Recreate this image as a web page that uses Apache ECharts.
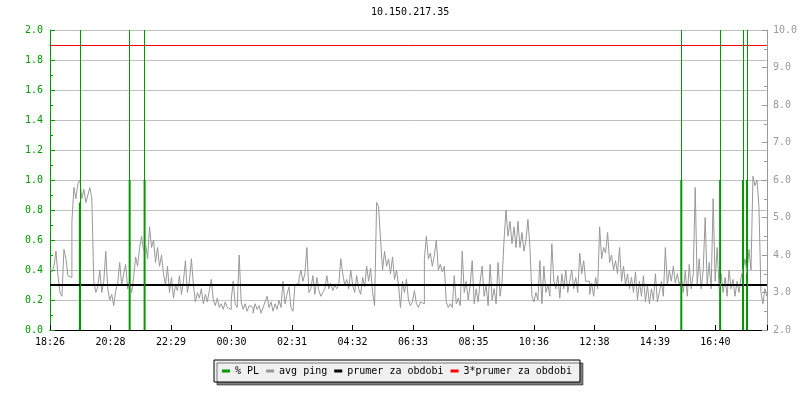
<!DOCTYPE html>
<html>
<head>
<meta charset="utf-8">
<script src="https://cdn.jsdelivr.net/npm/echarts@6/dist/echarts.min.js"></script>
<style>html,body{margin:0;padding:0;background:#fff}#c{width:800px;height:400px}</style>
</head>
<body>
<div id="c"></div>
<script>
// ---- data ----
const titleText = '10.150.217.35';
const timeLabels = ['18:26','20:28','22:29','00:30','02:31','04:32','06:33','08:35','10:36','12:38','14:39','16:40'];
const tickStepMin = 121.5;      // minutes between labelled ticks
const spanMin = 1440;           // minutes shown on the time axis
const sampleStepMin = 4;        // minutes between ping samples
// avg ping (ms), one value per sample, starting at 18:26
const pingMs = [
 3.65,3.55,3.7,4.1,3.45,3.0,2.9,4.15,3.9,3.45,3.4,4.9,5.8,5.5,5.9,6.0,5.5,5.75,5.4,5.6,
 5.8,5.5,3.3,3.0,3.15,3.6,3.0,3.3,4.1,3.1,2.8,2.95,2.65,3.05,3.25,3.8,3.2,3.5,3.75,3.1,
 3.3,3.0,3.4,3.95,3.7,4.2,4.5,4.1,4.3,3.9,4.75,4.2,4.4,3.8,4.2,3.7,4.0,3.5,3.2,3.7,
 3.0,3.4,2.85,3.2,3.05,3.45,2.95,3.3,3.85,3.0,3.3,3.9,3.2,2.75,3.0,2.85,3.1,2.7,2.95,2.75,
 3.05,3.35,2.8,2.65,2.85,2.6,2.7,2.55,2.75,2.6,
 2.55,2.8,3.3,2.7,2.6,4.0,2.75,2.55,2.7,2.5,2.65,2.6,2.45,2.7,2.55,2.65,2.45,2.6,2.75,2.9,
 2.6,2.75,2.5,2.7,2.55,2.8,2.6,3.3,2.7,2.95,3.15,2.6,2.5,3.2,3.25,3.35,3.6,3.3,3.5,4.2,
 3.0,3.1,3.45,2.95,3.4,3.05,2.9,3.0,3.1,3.45,3.1,3.25,3.05,3.2,3.1,3.2,3.9,3.5,3.2,3.35,
 3.1,3.6,3.2,3.0,3.45,3.1,2.95,3.4,3.15,3.7,3.3,3.65,3.0,2.65,5.4,5.3,4.4,3.6,4.1,3.7,
 3.9,3.5,3.95,3.35,3.6,3.2,2.6,3.3,3.0,3.35,
 2.8,2.65,2.75,3.05,2.7,2.6,2.75,2.7,3.9,4.5,3.9,4.05,3.7,4.0,4.4,3.6,3.75,3.55,3.7,2.75,
 2.6,2.7,2.6,3.45,2.7,2.85,2.65,4.1,3.0,3.3,2.8,3.2,3.85,2.7,3.1,2.75,3.3,3.7,2.9,3.2,
 2.65,3.75,2.8,3.1,2.7,3.8,2.9,3.3,4.4,5.2,4.5,4.9,4.3,4.75,4.2,4.9,4.2,4.6,4.1,4.4,
 4.95,4.2,2.9,2.75,3.0,2.8,3.85,2.7,3.7,3.0,3.2,2.9,4.3,3.3,3.1,3.45,2.85,3.5,3.1,3.6,
 3.0,3.3,3.6,3.1,3.4,3.0,4.05,3.5,3.85,3.3,
 3.3,2.95,3.25,2.9,3.4,3.1,4.75,3.9,4.2,4.05,4.6,3.8,4.0,3.6,3.85,3.5,4.2,3.3,3.7,3.2,
 3.5,3.1,3.4,3.0,3.55,2.8,3.3,2.9,3.45,2.75,3.2,2.7,3.1,2.8,3.5,2.75,3.0,3.3,2.9,4.2,
 3.2,3.6,3.3,3.7,3.25,3.5,3.2,3.4,3.0,3.6,2.9,3.75,3.1,3.5,5.8,3.2,3.9,3.1,3.6,5.0,
 3.2,3.8,3.1,5.5,3.3,4.2,3.1,3.5,3.0,3.4,2.9,3.6,3.1,3.35,2.9,3.3,3.0,3.4,3.6,3.9,
 3.5,4.15,3.6,6.1,5.85,6.0,5.3,3.0,2.7,3.1,2.9
];
// packet loss events (minutes after 18:26) and their % PL values
const plTimes = [60, 160, 190, 1268, 1346, 1392, 1400];
const plValues = [0.85, 1.0, 1.0, 1.0, 1.0, 1.0, 1.0];
const avgValue = 3.2;         // prumer za obdobi (ms)
const tripleAvgValue = 9.587; // 3*prumer za obdobi (ms)

// ---- chart ----
const GREEN = '#009a00', GRAY = '#999999', MONO = 'DejaVu Sans Mono';
const pingData = pingMs.map((v, i) => [i * sampleStepMin, v]);
const plData = plTimes.map((t, i) => [t, plValues[i]]);
const chart = echarts.init(document.getElementById('c'), null, {renderer: 'canvas'});
chart.setOption({
  animation: false,
  backgroundColor: '#fff',
  title: {text: titleText, left: 371, top: 7, padding: 0,
    textStyle: {fontFamily: MONO, fontSize: 10, fontWeight: 'normal', color: '#000'}},
  grid: {left: 50, right: 30, top: 30, bottom: 70},
  legend: {
    left: 214, top: 360, padding: [6, 8], itemGap: 7, icon: 'rect', itemWidth: 8, itemHeight: 3,
    backgroundColor: '#f0f0f0', borderColor: '#000', borderWidth: 1,
    shadowColor: 'rgba(0,0,0,0.5)', shadowBlur: 0, shadowOffsetX: 3, shadowOffsetY: 3,
    textStyle: {fontFamily: MONO, fontSize: 10, color: '#000'},
    data: ['% PL', 'avg ping', 'prumer za obdobi', '3*prumer za obdobi']
  },
  xAxis: {
    type: 'value', min: 0, max: spanMin, interval: tickStepMin,
    axisLine: {lineStyle: {color: '#000', width: 1}},
    axisTick: {inside: true, length: 5, lineStyle: {color: '#000'}},
    splitLine: {show: false},
    axisLabel: {fontFamily: MONO, fontSize: 10, color: '#000', margin: 7,
      formatter: v => { const k = Math.round(v / tickStepMin); return Math.abs(k * tickStepMin - v) < 0.01 && timeLabels[k] ? timeLabels[k] : ''; }}
  },
  yAxis: [{
    type: 'value', min: 0, max: 2, interval: 0.2, position: 'left',
    axisLine: {show: true, lineStyle: {color: GREEN}},
    axisTick: {show: true, inside: true, length: 5, lineStyle: {color: GREEN}},
    minorTick: {show: true, splitNumber: 2, length: 3, lineStyle: {color: GREEN}},
    splitLine: {show: true, lineStyle: {color: '#c0c0c0', width: 1}},
    axisLabel: {fontFamily: MONO, fontSize: 10, color: GREEN, margin: 7, formatter: v => v.toFixed(1)}
  }, {
    type: 'value', min: 2, max: 10, interval: 1, position: 'right',
    axisLine: {show: true, lineStyle: {color: GRAY}},
    axisTick: {show: true, inside: true, length: 5, lineStyle: {color: GRAY}},
    minorTick: {show: true, splitNumber: 2, length: 3, lineStyle: {color: GRAY}},
    splitLine: {show: false},
    axisLabel: {fontFamily: MONO, fontSize: 10, color: GRAY, margin: 6, formatter: v => v.toFixed(1)}
  }],
  series: [{
    name: '% PL', type: 'bar', yAxisIndex: 0, barWidth: 2, z: 1,
    itemStyle: {color: GREEN}, data: plData,
    markLine: {silent: true, symbol: ['none', 'none'], label: {show: false},
      lineStyle: {color: GREEN, width: 1, type: 'solid'},
      data: plTimes.map(t => ({xAxis: t}))}
  }, {
    name: 'avg ping', type: 'line', yAxisIndex: 1, z: 2, showSymbol: false, symbol: 'none', step: 'end',
    lineStyle: {color: GRAY, width: 1}, itemStyle: {color: GRAY}, data: pingData
  }, {
    name: 'prumer za obdobi', type: 'line', yAxisIndex: 1, z: 3, symbol: 'none',
    lineStyle: {color: '#000', width: 2}, itemStyle: {color: '#000'},
    data: [[0, avgValue], [spanMin, avgValue]]
  }, {
    name: '3*prumer za obdobi', type: 'line', yAxisIndex: 1, z: 3, symbol: 'none',
    lineStyle: {color: '#ff0000', width: 1}, itemStyle: {color: '#ff0000'},
    data: [[0, tripleAvgValue], [spanMin, tripleAvgValue]]
  }]
});
</script>
</body>
</html>
